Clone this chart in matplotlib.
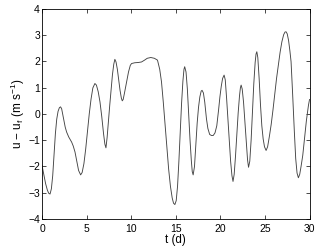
import matplotlib
matplotlib.use("Agg")
import matplotlib.pyplot as plt

t = [0.0, 0.2, 0.4, 0.6, 0.75, 0.9, 1.05, 1.2, 1.35, 1.5, 1.65, 1.8, 1.95, 2.08,
     2.2, 2.4, 2.6, 2.76, 3.0, 3.32, 3.5, 3.7, 3.9, 4.1, 4.33,
     4.5, 4.7, 4.9, 5.1, 5.3, 5.5, 5.7, 5.93,
     6.1, 6.3, 6.5, 6.7, 6.9, 7.05, 7.17,
     7.3, 7.45, 7.6, 7.75, 7.9, 8.05, 8.17,
     8.3, 8.45, 8.6, 8.75, 8.9, 9.0,
     9.1, 9.25, 9.48, 9.7, 9.9, 10.04, 10.4, 10.8, 11.16, 11.5, 11.8, 12.2, 12.6, 12.95,
     13.2, 13.4, 13.6, 13.8, 14.0, 14.2, 14.4, 14.6, 14.75, 14.9,
     15.05, 15.2, 15.35, 15.5, 15.65, 15.8, 15.92, 16.0,
     16.15, 16.3, 16.45, 16.6, 16.75, 16.85, 16.95,
     17.1, 17.25, 17.4, 17.55, 17.7, 17.85, 17.95,
     18.1, 18.25, 18.44, 18.6, 18.8, 19.0, 19.2, 19.4,
     19.6, 19.8, 19.95, 20.1, 20.25, 20.42,
     20.55, 20.7, 20.85, 21.0, 21.15, 21.3, 21.42,
     21.55, 21.7, 21.85, 22.0, 22.15, 22.25, 22.33,
     22.45, 22.6, 22.75, 22.9, 23.05, 23.16,
     23.3, 23.45, 23.6, 23.75, 23.9, 24.0, 24.09,
     24.2, 24.35, 24.5, 24.65, 24.8, 24.95, 25.13,
     25.3, 25.5, 25.7, 25.9, 26.1, 26.3, 26.5, 26.7, 26.9, 27.1, 27.25, 27.37,
     27.5, 27.65, 27.8, 27.93, 28.1, 28.3, 28.45, 28.6, 28.75,
     28.9, 29.05, 29.24, 29.45, 29.65, 29.88, 30.0]
u = [-1.96, -2.3, -2.65, -2.9, -3.02, -3.05, -2.85, -2.35, -1.55, -0.75, -0.2, 0.1, 0.24, 0.27,
     0.2, -0.15, -0.5, -0.69, -0.88, -1.07, -1.22, -1.45, -1.8, -2.15, -2.32,
     -2.23, -1.89, -1.33, -0.68, 0.01, 0.57, 0.99, 1.16,
     1.1, 0.85, 0.46, -0.1, -0.75, -1.15, -1.29,
     -0.9, -0.25, 0.35, 0.95, 1.5, 1.9, 2.08,
     1.98, 1.7, 1.3, 0.9, 0.6, 0.5,
     0.55, 0.8, 1.22, 1.6, 1.85, 1.92, 1.95, 1.96, 1.98, 2.05, 2.12, 2.15, 2.12, 2.05,
     1.7, 1.22, 0.45, -0.4, -1.3, -2.1, -2.75, -3.2, -3.4, -3.45,
     -3.3, -2.75, -1.8, -0.7, 0.4, 1.25, 1.7, 1.8,
     1.6, 0.95, -0.05, -1.0, -1.8, -2.2, -2.32,
     -2.0, -1.2, -0.35, 0.25, 0.65, 0.87, 0.9,
     0.8, 0.45, -0.18, -0.55, -0.78, -0.82, -0.82, -0.72,
     -0.45, 0.15, 0.65, 1.05, 1.35, 1.48,
     1.3, 0.6, -0.2, -1.05, -1.8, -2.35, -2.57,
     -2.3, -1.6, -0.8, 0.05, 0.7, 1.0, 1.1,
     0.95, 0.45, -0.3, -1.05, -1.75, -2.03,
     -1.8, -1.0, 0.1, 1.15, 1.95, 2.28, 2.37,
     2.15, 1.35, 0.35, -0.45, -0.95, -1.25, -1.39,
     -1.25, -0.85, -0.4, 0.15, 0.75, 1.35, 1.85, 2.35, 2.75, 3.02, 3.12, 3.13,
     3.05, 2.8, 2.4, 1.99, 0.8, -0.69, -1.7, -2.25, -2.43,
     -2.3, -2.0, -1.58, -0.9, -0.25, 0.33, 0.55]

xticks = [0, 5, 10, 15, 20, 25, 30]
yticks = [-4, -3, -2, -1, 0, 1, 2, 3, 4]

plt.rcParams['font.family'] = ['Liberation Sans', 'DejaVu Sans']
plt.rcParams['mathtext.fontset'] = 'custom'
plt.rcParams['mathtext.rm'] = 'Liberation Sans'
plt.rcParams['mathtext.it'] = 'Liberation Sans'

fig = plt.figure(figsize=(3.19, 2.48), dpi=100)
ax = fig.add_axes([0.1317, 0.117, 0.8386, 0.847])
ax.plot(t, u, color='#444444', lw=0.65)
ax.set_xlim(0, 30)
ax.set_ylim(-4, 4)
ax.set_xticks(xticks)
ax.set_yticks(yticks)
ax.tick_params(direction='in', top=True, right=True, labelsize=7.5, length=3, width=0.5)
ax.tick_params(axis='x', pad=3.5)
ax.tick_params(axis='y', pad=1.5)
for s in ax.spines.values():
    s.set_linewidth(0.6)
ax.set_xlabel('t (d)', fontsize=8.3, labelpad=0)
ax.set_ylabel(r'u − u$_\mathregular{f}$ (m s$^{\mathregular{-1}}$)', fontsize=8.5, labelpad=1)
fig.savefig('out.png', dpi=100)
